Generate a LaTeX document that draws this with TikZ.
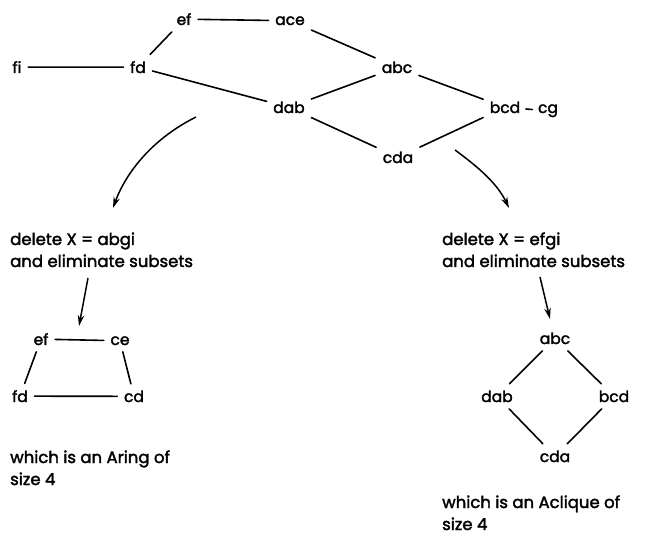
\documentclass[tikz,border=0pt]{standalone}
\usepackage{fontspec}
\setmainfont{Poppins}[FakeBold=2]
\usetikzlibrary{arrows.meta}
\tikzset{
  setnode/.style={anchor=base, inner sep=6.5pt, font=\fontsize{15.5}{20}\selectfont},
  % anchored at the baseline of the last line
  note/.style={anchor=base west, align=left, inner sep=0pt, font=\fontsize{16.5}{22}\selectfont},
  link/.style={line width=1.6pt, line cap=round},
  flow/.style={line width=1.5pt, -{Stealth[length=11pt,width=6.5pt]}},
}
\begin{document}
\begin{tikzpicture}[x=1pt,y=-1pt]
\useasboundingbox (0,0) rectangle (648,537);

% original graph
\node[setnode] (ef)  at (184,25)  {ef};
\node[setnode] (ace) at (290,25)  {ace};
\node[setnode] (fi)  at (17,73)   {fi};
\node[setnode] (fd)  at (138,73)  {fd};
\node[setnode] (abc) at (397,73)  {abc};
\node[setnode] (dab) at (289,113) {dab};
\node[setnode] (bcd) at (505,113) {bcd};
\node[setnode] (cg)  at (548,113) {cg};
\node[setnode] (cda) at (398,163) {cda};

\draw[link] (ef) -- (ace);
\draw[link] (fi) -- (fd);
\draw[link] (ef) -- (fd);
\draw[link] (fd) -- (dab);
\draw[link] (ace) -- (abc);
\draw[link] (dab) -- (abc);
\draw[link] (abc) -- (bcd);
\draw[link] (dab) -- (cda);
\draw[link] (cda) -- (bcd);
\draw[link, shorten <=-1pt, shorten >=-1pt] (bcd) -- (cg);

% branch arrows
\coordinate (l0) at (196,117);
\coordinate (l1) at (113,208);
\coordinate (r0) at (455,150);
\coordinate (r1) at (509,208);
\draw[flow] (l0) .. controls (150,140) and (125,175) .. (l1);
\draw[flow] (r0) .. controls (478,167) and (497,183) .. (r1);

% left branch
\node[note] (dl) at (10,267) {delete X = abgi\\and eliminate subsets};
\coordinate (la) at (88,278);
\coordinate (lb) at (79,326);
\draw[flow] (la) -- (lb);

\node[setnode] (ef2) at (41,345)  {ef};
\node[setnode] (ce2) at (120,345) {ce};
\node[setnode] (fd2) at (20,402)  {fd};
\node[setnode] (cd2) at (134,402) {cd};
\draw[link] (ef2) -- (ce2);
\draw[link] (ef2) -- (fd2);
\draw[link] (ce2) -- (cd2);
\draw[link] (fd2) -- (cd2);

\node[note] (rl) at (10,485) {which is an Aring of\\size 4};

% right branch
\node[note] (dr) at (442,267) {delete X = efgi\\and eliminate subsets};
\coordinate (ra) at (540,277);
\coordinate (rb) at (550,319);
\draw[flow] (ra) -- (rb);

\node[setnode] (abc3) at (555,344) {abc};
\node[setnode] (dab3) at (497,402) {dab};
\node[setnode] (bcd3) at (614,402) {bcd};
\node[setnode] (cda3) at (555,462) {cda};
\draw[link] (abc3) -- (dab3);
\draw[link] (abc3) -- (bcd3);
\draw[link] (dab3) -- (cda3);
\draw[link] (cda3) -- (bcd3);

\node[note] (rr) at (442,530) {which is an Aclique of\\size 4};
\end{tikzpicture}
\end{document}
